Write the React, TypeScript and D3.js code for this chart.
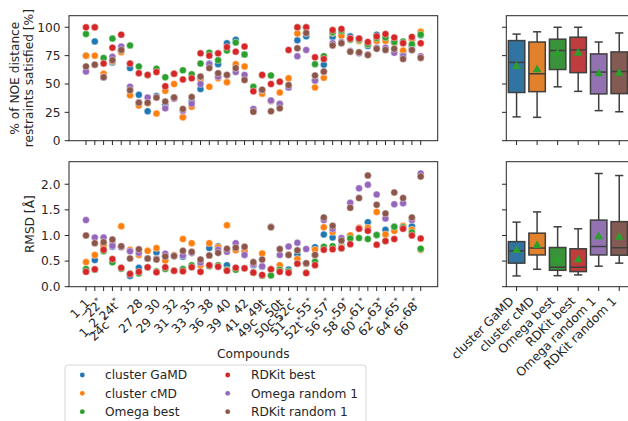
import React from "react";
import * as d3 from "d3";

const compounds = [
  "1_1", "1_2", "22*", "24c*", "24t*", "27", "28", "29", "30", "31", "32", "33", "35",
  "36", "38", "39", "40", "41", "42", "49c", "49t", "50c", "50t", "51*", "52c*", "52t*",
  "55*", "56*", "57*", "58*", "59*", "60*", "61*", "62*", "63*", "64*", "65*", "66*", "68*",
];

const methods = ["cluster GaMD", "cluster cMD", "Omega best", "RDKit best", "Omega random 1", "RDKit random 1"];
const pointColors = ["#1f77b4", "#ff7f0e", "#2ca02c", "#d62728", "#9467bd", "#8c564b"];
const boxColors = ["#3274a1", "#e1812c", "#3a923a", "#c03d3e", "#9372b2", "#845b53"];

// % of NOE distance restraints satisfied
const noeGaMD = [75, 87.5, 56, 69, 79, 64, 40.5, 26, 39.5, 32, 38, 21, 34.5, 45.5, 68, 67.5, 86, 89, 76, 27, 44.5, 35, 32, 47, 88.5, 92, 53, 67, 91.5, 94, 92, 90, 83.5, 93.5, 90, 88, 77, 83, 93];
const noeCMD = [75, 75, 59, 70, 78, 40, 31, 33, 24, 44, 50, 20.6, 30, 54, 47.5, 55, 51.5, 67.5, 65.5, 27, 41.5, 35, 42.5, 55, 94.5, 95, 47, 55.5, 95, 92.5, 90, 88, 85, 88, 88, 86, 79.5, 89.5, 96];
const noeOmegaBest = [94, 100, 73, 90, 80, 84, 65.5, 58, 63.5, 56, 59, 62, 58.5, 68, 77.5, 71, 79.5, 86.5, 76, 47.5, 58, 57.5, 52, 48, 100, 100, 67.5, 74.5, 95.5, 97, 89, 89, 85, 90.5, 91, 87, 87.5, 85, 93.5];
const noeRDKitBest = [100, 100, 68, 82, 93.5, 68, 59.5, 58, 60.5, 48, 59, 54, 55, 77, 75, 77, 82.5, 78.5, 83, 43.5, 58, 50, 52, 80, 100, 100, 73.5, 72, 97.5, 98.5, 90, 90, 87, 92, 94, 91, 86, 91.5, 86];
const noeOmegaRandom = [61, 67, 56, 74, 83, 47.5, 34, 38, 38, 28.5, 37, 26.5, 32.5, 50, 67.5, 56.5, 58, 60.5, 58, 28, 44.5, 35.5, 32.5, 47, 74.5, 80, 53, 60.5, 86, 87, 79, 77, 76, 82, 82, 77.5, 74.5, 80, 74.5];
const noeRDKitRandom = [65.5, 67, 56, 71, 80, 44.5, 33.5, 33.5, 38, 34.5, 38, 28, 38.5, 56.5, 64, 59.5, 58, 64, 53.5, 25.5, 45, 26, 28.5, 49, 81.5, 95, 57.5, 61, 84, 86, 78.5, 78, 75.5, 81, 80, 81, 72, 80, 73];

// RMSD [Å]
const rmsdGaMD = [0.33, 0.52, 0.8, 0.78, 0.78, 0.21, 0.37, 0.55, 0.67, 0.6, 0.6, 0.585, 0.66, 0.47, 0.755, 0.79, 0.42, 0.75, 0.7, 0.42, 0.39, 0.34, 0.345, 0.335, 0.63, 0.45, 0.77, 1.02, 0.96, 0.8, 1.0, 1.14, 1.26, 1.01, 1.11, 1.17, 1.15, 1.18, 0.73];
const rmsdCMD = [0.48, 0.62, 0.81, 0.85, 1.18, 0.72, 0.62, 0.7, 0.755, 0.51, 0.62, 0.93, 0.85, 0.42, 0.85, 0.77, 1.2, 0.71, 0.69, 0.45, 0.65, 0.34, 0.42, 0.63, 0.54, 0.46, 0.72, 1.16, 1.07, 0.77, 1.0, 1.15, 1.15, 1.46, 1.02, 1.09, 1.19, 1.11, 0.72];
const rmsdOmegaBest = [0.345, 0.33, 0.69, 0.475, 0.35, 0.26, 0.26, 0.38, 0.3, 0.345, 0.31, 0.345, 0.42, 0.29, 0.4, 0.42, 0.33, 0.33, 0.36, 0.27, 0.215, 0.22, 0.33, 0.3, 0.45, 0.27, 0.49, 0.78, 0.79, 0.75, 0.94, 0.95, 0.93, 1.01, 0.89, 1.17, 1.16, 1.06, 0.74];
const rmsdRDKitBest = [0.29, 0.34, 0.72, 0.54, 0.37, 0.25, 0.29, 0.38, 0.28, 0.38, 0.31, 0.3, 0.38, 0.29, 0.42, 0.39, 0.31, 0.37, 0.36, 0.275, 0.23, 0.34, 0.29, 0.27, 0.45, 0.265, 0.42, 0.72, 0.73, 0.75, 0.83, 1.13, 1.09, 0.82, 0.89, 0.93, 1.13, 1.0, 0.94];
const rmsdOmegaRandom = [1.3, 0.96, 0.96, 0.8, 0.77, 0.69, 0.66, 0.55, 0.55, 0.645, 0.6, 0.61, 0.66, 0.47, 0.61, 0.72, 0.68, 0.85, 0.62, 0.44, 0.4, 1.17, 0.62, 0.785, 0.86, 0.735, 0.62, 1.3, 1.13, 0.95, 1.64, 1.92, 1.99, 1.8, 1.33, 1.61, 1.63, 1.3, 2.21];
const rmsdRDKitRandom = [1.0, 0.85, 0.87, 0.92, 0.79, 0.55, 0.73, 0.55, 0.53, 0.59, 0.6, 0.7, 0.68, 0.53, 0.61, 0.66, 0.74, 0.76, 0.78, 0.48, 0.53, 1.16, 0.735, 0.62, 0.71, 0.46, 0.62, 1.35, 1.19, 0.9, 1.54, 1.73, 2.17, 1.6, 1.43, 1.84, 1.73, 1.35, 2.15];

const noeSeries = [noeGaMD, noeCMD, noeOmegaBest, noeRDKitBest, noeOmegaRandom, noeRDKitRandom];
const rmsdSeries = [rmsdGaMD, rmsdCMD, rmsdOmegaBest, rmsdRDKitBest, rmsdOmegaRandom, rmsdRDKitRandom];

const noeTicks = [0, 25, 50, 75, 100];
const rmsdTicks = [0, 0.5, 1, 1.5, 2];

const FONT = "DejaVu Sans";
const FS = 12.2;
const SUP = 8.5;
const TICK = 4.3;
const PAD = 4.3;
const INK = "#262626";

// layout
const left = { x0: 69, x1: 437.7 };
const right = { x0: 506.3, x1: 629.5 };
const top = { y0: 15.7, y1: 140.7 };
const bottom = { y0: 161.7, y1: 286.7 };

const xCmp = d3.scaleLinear().domain([-1.93, compounds.length - 1 + 1.93]).range([left.x0, left.x1]);
const xBox = d3.scaleLinear().domain([-0.5, methods.length - 0.5]).range([right.x0, right.x1]);
const yNoe = d3.scaleLinear().domain([0, 110.2]).range([top.y1, top.y0]);
const yRmsd = d3.scaleLinear().domain([0, 2.44]).range([bottom.y1, bottom.y0]);

function boxStats(values: number[]) {
  const v = values.slice().sort(d3.ascending);
  const q1 = d3.quantile(v, 0.25)!;
  const med = d3.quantile(v, 0.5)!;
  const q3 = d3.quantile(v, 0.75)!;
  const iqr = q3 - q1;
  const lo = d3.min(v.filter((d) => d >= q1 - 1.5 * iqr))!;
  const hi = d3.max(v.filter((d) => d <= q3 + 1.5 * iqr))!;
  const fliers = v.filter((d) => d < lo || d > hi);
  return { q1, med, q3, lo, hi, mean: d3.mean(v)!, fliers };
}

const Frame = ({ x0, x1, y0, y1 }: { x0: number; x1: number; y0: number; y1: number }) => (
  <rect x={x0} y={y0} width={x1 - x0} height={y1 - y0} fill="none" stroke={INK} strokeWidth={1} />
);

function YAxis({ x, y, ticks, fmt, labels }: { x: number; y: d3.ScaleLinear<number, number>; ticks: number[]; fmt: (d: number) => string; labels: boolean }) {
  return (
    <g>
      {ticks.map((t) => (
        <g key={t}>
          <line x1={x - TICK} x2={x} y1={y(t)} y2={y(t)} stroke={INK} strokeWidth={1} />
          {labels && (
            <text x={x - TICK - PAD} y={y(t) + 4.4} textAnchor="end" fontSize={FS} fill={INK}>
              {fmt(t)}
            </text>
          )}
        </g>
      ))}
    </g>
  );
}

function XTicks({ xs, y }: { xs: number[]; y: number }) {
  return (
    <g>
      {xs.map((x, i) => (
        <line key={i} x1={x} x2={x} y1={y} y2={y + TICK} stroke={INK} strokeWidth={1} />
      ))}
    </g>
  );
}

function Scatter({ series, y }: { series: number[][]; y: d3.ScaleLinear<number, number> }) {
  return (
    <g>
      {series.map((vals, s) => (
        <g key={s}>
          {vals.map((v, i) => (
            <circle key={i} cx={xCmp(i)} cy={y(v)} r={3.5} fill={pointColors[s]} stroke="#ffffff" strokeOpacity={0.55} strokeWidth={0.8} />
          ))}
        </g>
      ))}
    </g>
  );
}

function Boxes({ series, y }: { series: number[][]; y: d3.ScaleLinear<number, number> }) {
  const step = xBox(1) - xBox(0);
  const bw = step * 0.8;
  const cw = bw / 2;
  const lc = "#3f3f3f";
  return (
    <g>
      {series.map((vals, s) => {
        const st = boxStats(vals);
        const cx = xBox(s);
        const tri = d3.symbol(d3.symbolTriangle, 34)();
        return (
          <g key={s}>
            <line x1={cx} x2={cx} y1={y(st.q3)} y2={y(st.hi)} stroke={lc} strokeWidth={1.5} />
            <line x1={cx} x2={cx} y1={y(st.q1)} y2={y(st.lo)} stroke={lc} strokeWidth={1.5} />
            <line x1={cx - cw / 2} x2={cx + cw / 2} y1={y(st.hi)} y2={y(st.hi)} stroke={lc} strokeWidth={1.5} />
            <line x1={cx - cw / 2} x2={cx + cw / 2} y1={y(st.lo)} y2={y(st.lo)} stroke={lc} strokeWidth={1.5} />
            <rect x={cx - bw / 2} y={y(st.q3)} width={bw} height={y(st.q1) - y(st.q3)} fill={boxColors[s]} stroke={lc} strokeWidth={1.5} />
            <line x1={cx - bw / 2} x2={cx + bw / 2} y1={y(st.med)} y2={y(st.med)} stroke={lc} strokeWidth={1.5} />
            <path d={tri!} transform={`translate(${cx},${y(st.mean)})`} fill="#2ca02c" />
            {st.fliers.map((f, k) => (
              <path key={k} d={d3.symbol(d3.symbolDiamond, 20)()!} transform={`translate(${cx},${y(f)})`} fill={lc} />
            ))}
          </g>
        );
      })}
    </g>
  );
}

function CompoundLabel({ name, i }: { name: string; i: number }) {
  const star = name.endsWith("*");
  const base = star ? name.slice(0, -1) : name;
  // labels alternate between two rows so they do not collide
  const ex = xCmp(i) + (star ? 0.5 : 4.6);
  const ey = i % 2 === 1 ? 323 : 304;
  return (
    <text x={ex} y={ey} textAnchor="end" fontSize={FS} fill={INK} transform={`rotate(-45,${ex},${ey})`}>
      {base}
      {star && (
        <tspan fontSize={SUP} dy={-4.6}>
          *
        </tspan>
      )}
    </text>
  );
}

export default function App() {
  const cmpXs = compounds.map((_, i) => xCmp(i));
  const boxXs = methods.map((_, i) => xBox(i));
  const midTop = (top.y0 + top.y1) / 2;
  const midBot = (bottom.y0 + bottom.y1) / 2;
  return (
    <svg width={628} height={421} style={{ position: "absolute", left: 0, top: 0 }} fontFamily={FONT}>
      <rect width={628} height={421} fill="#ffffff" />

      {/* top-left: NOE scatter */}
      <Scatter series={noeSeries} y={yNoe} />
      <Frame x0={left.x0} x1={left.x1} y0={top.y0} y1={top.y1} />
      <YAxis x={left.x0} y={yNoe} ticks={noeTicks} fmt={(d) => String(d)} labels />
      <XTicks xs={cmpXs} y={top.y1} />

      {/* top-right: NOE boxes */}
      <Boxes series={noeSeries} y={yNoe} />
      <Frame x0={right.x0} x1={right.x1} y0={top.y0} y1={top.y1} />
      <YAxis x={right.x0} y={yNoe} ticks={noeTicks} fmt={(d) => String(d)} labels={false} />
      <XTicks xs={boxXs} y={top.y1} />

      {/* bottom-left: RMSD scatter */}
      <Scatter series={rmsdSeries} y={yRmsd} />
      <Frame x0={left.x0} x1={left.x1} y0={bottom.y0} y1={bottom.y1} />
      <YAxis x={left.x0} y={yRmsd} ticks={rmsdTicks} fmt={d3.format(".1f")} labels />
      <XTicks xs={cmpXs} y={bottom.y1} />

      {/* bottom-right: RMSD boxes */}
      <Boxes series={rmsdSeries} y={yRmsd} />
      <Frame x0={right.x0} x1={right.x1} y0={bottom.y0} y1={bottom.y1} />
      <YAxis x={right.x0} y={yRmsd} ticks={rmsdTicks} fmt={d3.format(".1f")} labels={false} />
      <XTicks xs={boxXs} y={bottom.y1} />

      {/* y labels */}
      <text transform={`translate(19.3,${midTop}) rotate(-90)`} textAnchor="middle" fontSize={FS} fill={INK}>
        % of NOE distance
      </text>
      <text transform={`translate(33.2,${midTop}) rotate(-90)`} textAnchor="middle" fontSize={FS} fill={INK}>
        restraints satisfied [%]
      </text>
      <text transform={`translate(34.3,${midBot}) rotate(-90)`} textAnchor="middle" fontSize={FS} fill={INK}>
        RMSD [Å]
      </text>

      {/* x tick labels */}
      {compounds.map((c, i) => (
        <CompoundLabel key={c} name={c} i={i} />
      ))}
      {methods.map((m, i) => {
        const ex = xBox(i) - 2;
        const ey = bottom.y1 + TICK + PAD + 6.6;
        return (
          <text key={m} x={ex} y={ey} textAnchor="end" fontSize={FS} fill={INK} transform={`rotate(-45,${ex},${ey})`}>
            {m}
          </text>
        );
      })}

      <text x={(left.x0 + left.x1) / 2} y={358} textAnchor="middle" fontSize={FS} fill={INK}>
        Compounds
      </text>

      {/* legend */}
      <rect x={65} y={365} width={301} height={70} rx={3} fill="#ffffff" stroke="#d6d6d6" strokeWidth={1} />
      {methods.map((m, i) => {
        const col = Math.floor(i / 3);
        const row = i % 3;
        const cy = 375 + row * 18.35;
        const mx = col === 0 ? 82.3 : 227.7;
        const tx = col === 0 ? 105 : 251;
        return (
          <g key={m}>
            <circle cx={mx} cy={cy} r={2.4} fill={pointColors[i]} />
            <text x={tx} y={cy + 4.4} fontSize={FS} fill={INK}>
              {m}
            </text>
          </g>
        );
      })}
    </svg>
  );
}
